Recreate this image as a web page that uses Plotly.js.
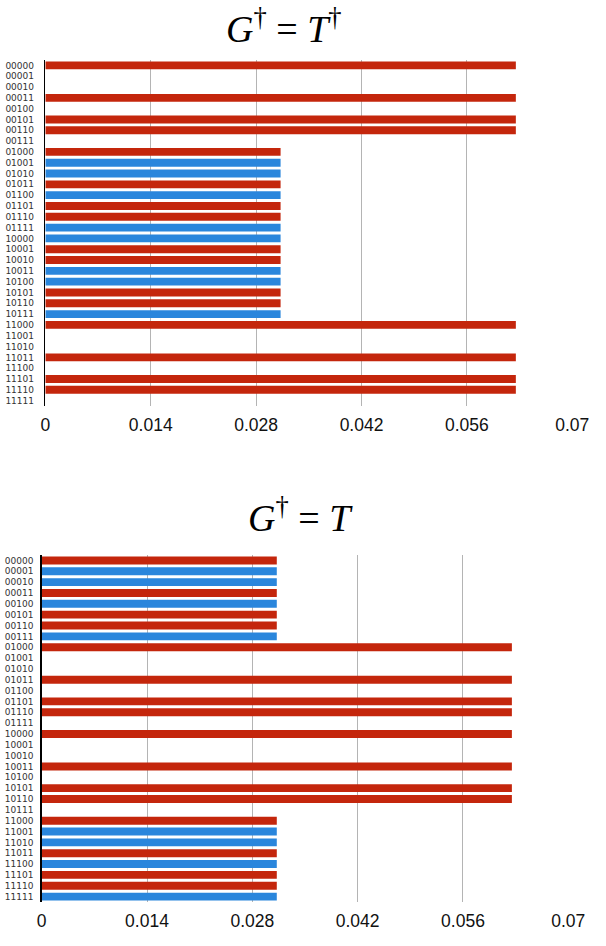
<!DOCTYPE html>
<html>
<head>
<meta charset="utf-8">
<script src="https://cdn.plot.ly/plotly-3.0.1.min.js"></script>
<style>
	body { margin: 0; background: #fff; }
	#chart { width: 606px; height: 946px; }
</style>
</head>
<body>
<div id="chart"></div>
<script>
'use strict';

// basis states, top to bottom
var states = ["00000", "00001", "00010", "00011", "00100", "00101", "00110", "00111",
	"01000", "01001", "01010", "01011", "01100", "01101", "01110", "01111",
	"10000", "10001", "10010", "10011", "10100", "10101", "10110", "10111",
	"11000", "11001", "11010", "11011", "11100", "11101", "11110", "11111"];

var xTicks = [0, 0.014, 0.028, 0.042, 0.056, 0.07];
var xTickText = ["0", "0.014", "0.028", "0.042", "0.056", "0.07"];

// G† = T†
var probTop = [0.0625, 0, 0, 0.0625, 0, 0.0625, 0.0625, 0,
	0.03125, 0.03125, 0.03125, 0.03125, 0.03125, 0.03125, 0.03125, 0.03125,
	0.03125, 0.03125, 0.03125, 0.03125, 0.03125, 0.03125, 0.03125, 0.03125,
	0.0625, 0, 0, 0.0625, 0, 0.0625, 0.0625, 0];
var signTop = [1, 1, 1, 1, 1, 1, 1, 1,
	1, -1, -1, 1, -1, 1, 1, -1,
	-1, 1, 1, -1, -1, 1, 1, -1,
	1, 1, 1, 1, 1, 1, 1, 1];

// G† = T
var probBottom = [0.03125, 0.03125, 0.03125, 0.03125, 0.03125, 0.03125, 0.03125, 0.03125,
	0.0625, 0, 0, 0.0625, 0, 0.0625, 0.0625, 0,
	0.0625, 0, 0, 0.0625, 0, 0.0625, 0.0625, 0,
	0.03125, 0.03125, 0.03125, 0.03125, 0.03125, 0.03125, 0.03125, 0.03125];
var signBottom = [1, -1, -1, 1, -1, 1, 1, -1,
	1, 1, 1, 1, 1, 1, 1, 1,
	1, 1, 1, 1, 1, 1, 1, 1,
	1, -1, -1, 1, -1, 1, 1, -1];

var RED = '#c4260c';
var BLUE = '#2a86dc';

var colorsFor = function(signs) {
	var out = [];
	for (var i = 0; i < signs.length; i++) {
		out.push(signs[i] > 0 ? RED : BLUE);
	}
	return out;
};

var makeTrace = function(probs, signs, xa, ya) {
	return {
		type: 'bar',
		orientation: 'h',
		x: probs,
		y: states,
		xaxis: xa,
		yaxis: ya,
		marker: {
			color: colorsFor(signs),
			line: { width: 0 }
		},
		hoverinfo: 'none',
		showlegend: false
	};
};

var xAxisBase = function(domain) {
	return {
		domain: domain,
		range: [0, 0.07],
		tickmode: 'array',
		tickvals: xTicks,
		ticktext: xTickText,
		showgrid: true,
		gridcolor: '#b4b4b4',
		gridwidth: 1,
		zeroline: false,
		showline: false,
		ticks: '',
		ticklabelstandoff: 6,
		tickfont: { family: 'Liberation Sans, Arial, sans-serif', size: 17.5, color: '#111' },
		fixedrange: true
	};
};

var yAxisBase = function(domain, standoff) {
	return {
		domain: domain,
		type: 'category',
		categoryorder: 'array',
		categoryarray: states,
		tickmode: 'array',
		tickvals: states,
		ticktext: states,
		range: [31.5, -0.5],
		showgrid: false,
		zeroline: false,
		showline: true,
		linecolor: '#000',
		linewidth: 1.5,
		ticks: '',
		ticklabelstandoff: standoff,
		tickfont: { family: 'DejaVu Sans, sans-serif', size: 9, color: '#333' },
		fixedrange: true
	};
};

var data = [
	makeTrace(probTop, signTop, 'x', 'y'),
	makeTrace(probBottom, signBottom, 'x2', 'y2')
];

var yTop = yAxisBase([0.5708, 0.9366], 8);
yTop.anchor = 'x';
var yBottom = yAxisBase([0.0465, 0.4133], 5);
yBottom.anchor = 'x2';

var xTop = xAxisBase([0.0748, 0.9444]);
xTop.anchor = 'y';
var xBottom = xAxisBase([0.0688, 0.9378]);
xBottom.anchor = 'y2';

var titleFont = { family: 'Liberation Serif, Times New Roman, serif', size: 38, color: '#000' };

var layout = {
	width: 606,
	height: 946,
	margin: { l: 0, r: 0, t: 0, b: 0 },
	paper_bgcolor: '#fff',
	plot_bgcolor: '#fff',
	bargap: 0.27,
	xaxis: xTop,
	yaxis: yTop,
	xaxis2: xBottom,
	yaxis2: yBottom,
	annotations: [
		{
			text: '<i>G</i><sup>†</sup> = <i>T</i><sup>†</sup>',
			xref: 'paper', yref: 'paper',
			x: 284 / 606, y: 1 - 26 / 946,
			xanchor: 'center', yanchor: 'middle',
			showarrow: false,
			font: titleFont
		},
		{
			text: '<i>G</i><sup>†</sup> = <i>T</i>',
			xref: 'paper', yref: 'paper',
			x: 300 / 606, y: 1 - 515 / 946,
			xanchor: 'center', yanchor: 'middle',
			showarrow: false,
			font: titleFont
		}
	]
};

Plotly.newPlot('chart', data, layout, { displayModeBar: false, staticPlot: true });
</script>
</body>
</html>
